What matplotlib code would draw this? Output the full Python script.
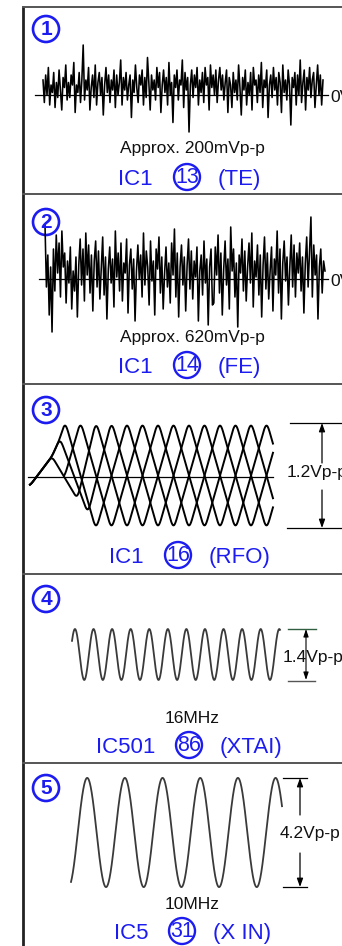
import numpy as np
import matplotlib.pyplot as plt
from matplotlib.patches import Circle
from matplotlib import font_manager

# ---- chart data ----
panel_nums = ['1', '2', '3', '4', '5']
pin_ic = ['IC1', 'IC1', 'IC1', 'IC501', 'IC5']
pin_no = ['13', '14', '16', '86', '31']
pin_sig = ['(TE)', '(FE)', '(RFO)', '(XTAI)', '(X IN)']
notes = ['Approx. 200mVp-p', 'Approx. 620mVp-p', '', '16MHz', '10MHz']
vpp_text = ['1.2Vp-p', '1.4Vp-p', '4.2Vp-p']

# TE noise (mV)
te_mv = [30, -15, 40, 0, 55, -20, 20, 5, 45, -25, 25, -5, 50, 10, -30, 35, 15, 60, -10, 25,
         -5, 40, 20, 65, -35, 20, 5, 45, -15, 30, 100, -10, 30, 10, 55, -30, 15, 40, -5, 60,
         -20, 25, 45, 0, 35, -40, 20, 55, 5, 40, -15, 30, 10, 50, -25, 40, 0, 25, 70, -20,
         35, 10, 45, -10, 20, 40, -45, 30, 5, 60, 15, -15, 40, 20, 50, -20, 35, -5, 75, 25,
         -30, 40, 10, 30, -10, 55, 15, 45, -35, 20, 50, 5, 35, -20, 65, 0, 25, -55, 40, 15,
         50, -10, 30, 20, 70, -25, 45, 10, 35, -74, 20, 50, -5, 40, 15, 55, -20, 30, 5, 45,
         -15, 55, 20, 35, -30, 60, 15, 40, 0, 50, -15, 30, 55, 10, 40, -10, 25, 50, -35, 35,
         20, -25, 45, 5, 30, -10, 60, 15, -40, 35, 10, 50, -20, 25, 0, 45, -30, 55, 20, 30,
         -15, 40, 5, 65, -25, 30, 15, 50, -45, 20, 40, -5, 55, 10, 35, -20, 45, 25, -35, 60,
         5, 30, -10, 50, 20, -60, 35, 15, 45, -20, 40, 0, 70, -15, 25, 50, -30, 35, 10, 55,
         -5, 30, 45, -25, 20, 60, 0, 40, -20, 30]

# FE noise (mV)
fe_mv = [270, -40, 120, -180, 60, -265, 150, -60, 220, 30, 180, -90, 240, 60, 130, -120, 90, -20, 160, -150,
         40, -60, 110, -190, 70, 200, -30, 150, -110, 230, 20, 170, -70, 120, -160, 90, 190, -40, 140, -100,
         60, 210, -80, 110, -200, 50, 160, -20, 100, -140, 240, 10, 130, -60, 180, -110, 80, 30, 200, -170,
         70, 150, -50, 100, -210, 40, 170, 0, 120, -90, 230, -30, 140, 60, -130, 190, -10, 90, -180, 150,
         50, 210, -70, 110, -150, 30, 160, -40, 80, -120, 180, 20, 250, -90, 130, -190, 60, 170, -30, 110,
         -160, 70, 200, -50, 140, -100, 90, 10, 160, -210, 40, 120, -80, 190, -20, 100, -230, 60, 150, -130,
         -120, 160, 20, 220, -70, 130, -180, 50, 190, -30, 100, -150, 260, 40, 150, -90, 80, -240, 120, 30,
         200, -60, 140, -110, 60, 180, -20, 230, -140, 90, 10, 170, -80, 120, -190, 70, 210, -50, 130, -100,
         40, 160, -160, 100, 20, 240, -70, 150, -200, 80, 190, -10, 110, -130, 60, 220, -40, 170, -90, 130,
         30, 180, -60, 110, -170, 80, 210, -40, 140, 310, -90, 170, 20, 120, -200, 60, 150, -70, 90, 40]

# RFO eye pattern: turning points (time in clock cells, level in V)
rfo_traces = [
    [(-2.26, -0.11), (-0.84, 0.21), (-0.32, 0.41), (0, 0.6), (2, -0.6), (4, 0.6), (6, -0.6),
     (8, 0.6), (10, -0.6), (12, 0.6), (13.6, -0.36)],
    [(-2.26, -0.11), (-0.84, 0.21), (0.8, -0.26), (2, 0.6), (4, -0.6), (6, 0.6), (8, -0.6),
     (10, 0.6), (12, -0.6), (13.6, 0.36)],
    [(-2.26, -0.11), (-0.84, 0.21), (-0.32, 0.41), (1.48, -0.42), (3, 0.6), (5, -0.6), (7, 0.6),
     (9, -0.6), (11, 0.6), (13, -0.6), (13.6, -0.24)],
    [(-0.035, -0.02), (1, 0.6), (3, -0.6), (5, 0.6), (7, -0.6), (9, 0.6), (11, -0.6), (13, 0.6),
     (13.6, 0.24)],
]

# crystal clocks
clk_mhz = [16, 10]
clk_vpp = [1.4, 4.2]

# ---- fonts ----
names = {f.name for f in font_manager.fontManager.ttflist}
sans = 'Liberation Sans' if 'Liberation Sans' in names else 'DejaVu Sans'
narrow = 'Liberation Sans Narrow' if 'Liberation Sans Narrow' in names else sans
plt.rcParams['font.family'] = sans

blue = '#1c1cf0'

fig = plt.figure(figsize=(3.42, 9.46), dpi=100)
ax = fig.add_axes([0, 0, 1, 1])
ax.set_xlim(0, 342)
ax.set_ylim(946, 0)
ax.axis('off')

# frame
ax.plot([23, 23], [6, 946], color='#222222', lw=2.0, solid_capstyle='butt')
for y in [7, 194, 384, 573.5, 763]:
    ax.plot([23, 342], [y, y], color='#555555', lw=1.4)

# panel numbers
num_y = [29, 222, 410, 599, 788]
for n, y in zip(panel_nums, num_y):
    ax.add_patch(Circle((46, y), 13, fill=False, ec=blue, lw=1.9))
    ax.text(46, y + 0.5, n, color=blue, fontsize=15, fontweight='bold',
            ha='center', va='center')

# pin labels
lab_y = [177, 365, 555, 745, 931]
lab_cx = [187, 187, 178, 189, 182]
for i in range(5):
    cx, cy = lab_cx[i], lab_y[i]
    ax.text(cx - 34, cy + 8, pin_ic[i], color=blue, fontsize=16, ha='right', va='baseline')
    ax.add_patch(Circle((cx, cy), 13, fill=False, ec=blue, lw=1.7))
    ax.text(cx, cy + 0.5, pin_no[i], color=blue, fontsize=15.5, family=narrow,
            ha='center', va='center')
    ax.text(cx + 31, cy + 8, pin_sig[i], color=blue, fontsize=16, ha='left', va='baseline')

# notes
note_base = [153, 342, None, 723, 909]
for txt, yb in zip(notes, note_base):
    if txt:
        ax.text(192, yb, txt, fontsize=12.5, ha='center', va='baseline', color='#111111')

# ---- 1: TE noise ----
x = np.linspace(43, 323, len(te_mv))
ax.plot([35, 328], [95, 95], color='black', lw=0.9)
ax.plot(x, 95 - np.array(te_mv) / 2.0, color='black', lw=1.15)
ax.text(330, 102, '0V', fontsize=12.5, va='baseline', color='#111111')

# ---- 2: FE noise ----
x = np.linspace(45, 325, len(fe_mv))
ax.plot([39, 328], [279, 279], color='black', lw=0.9)
ax.plot(x, 279 - np.array(fe_mv) / 5.0, color='black', lw=1.15)
ax.text(330, 286, '0V', fontsize=12.5, va='baseline', color='#111111')

# ---- 3: RFO eye pattern ----
ax.plot([28, 273], [477, 477], color='black', lw=0.9)
cell_px, volt_px, x0, yc = 15.5, 91.0, 65, 475.5
step = 0.25
win = np.hanning(37)
win /= win.sum()
for tr in rfo_traces:
    tt = np.array([p[0] for p in tr]) * cell_px + x0
    vv = np.array([p[1] for p in tr])
    xs = np.arange(tt[0], tt[-1], step)
    ys = np.interp(xs, tt, vv)
    ys = np.convolve(np.pad(ys, 18, mode='edge'), win, mode='valid')
    keep = xs <= 273
    ax.plot(xs[keep], yc - ys[keep] * volt_px, color='black', lw=1.4)
ax.plot([290, 342], [423, 423], color='black', lw=0.9)
ax.plot([287, 342], [528, 528], color='black', lw=0.9)
ap = dict(arrowstyle='-|>,head_width=0.18,head_length=0.5', color='black', lw=0.9, shrinkA=0, shrinkB=0)
ax.annotate('', xy=(322, 423), xytext=(322, 463), arrowprops=ap)
ax.annotate('', xy=(322, 528), xytext=(322, 490), arrowprops=ap)
ax.text(287, 477, vpp_text[0], fontsize=12.5, va='baseline', color='#111111')

# ---- 4 / 5: clocks ----
clk_x = [(72, 280), (71, 282)]
clk_yc = [654.5, 832.5]
clk_vpx = [36.4, 26.0]
clk_t0 = [-10, -43]        # ns before first peak
for i in range(2):
    period = 1000.0 / clk_mhz[i]
    span = 700 if i == 0 else 560
    t = np.linspace(clk_t0[i], clk_t0[i] + span, 1500)
    v = clk_vpp[i] / 2 * np.cos(2 * np.pi * t / period)
    xs = np.linspace(clk_x[i][0], clk_x[i][1], len(t))
    ax.plot(xs, clk_yc[i] - v * clk_vpx[i], color='#3a3a3a', lw=1.3)

# 4 markers
ax.plot([288, 316], [628.5, 628.5], color='#2f5f3f', lw=1.0)
ax.plot([288, 315], [680.5, 680.5], color='#555555', lw=1.0)
ap2 = dict(arrowstyle='<|-|>,head_width=0.15,head_length=0.45', color='black', lw=0.8,
           shrinkA=0, shrinkB=0)
ax.annotate('', xy=(306, 629), xytext=(306, 680), arrowprops=ap2)
ax.text(283, 662, vpp_text[1], fontsize=12.5, va='baseline', color='#111111')

# 5 markers
ax.plot([283, 307], [778, 778], color='black', lw=0.9)
ax.plot([283, 307], [887, 887], color='black', lw=0.9)
ax.annotate('', xy=(300, 778), xytext=(300, 815), arrowprops=ap)
ax.annotate('', xy=(300, 887), xytext=(300, 853), arrowprops=ap)
ax.text(280, 838, vpp_text[2], fontsize=12.5, va='baseline', color='#111111')

fig.savefig('out.png', dpi=100)
